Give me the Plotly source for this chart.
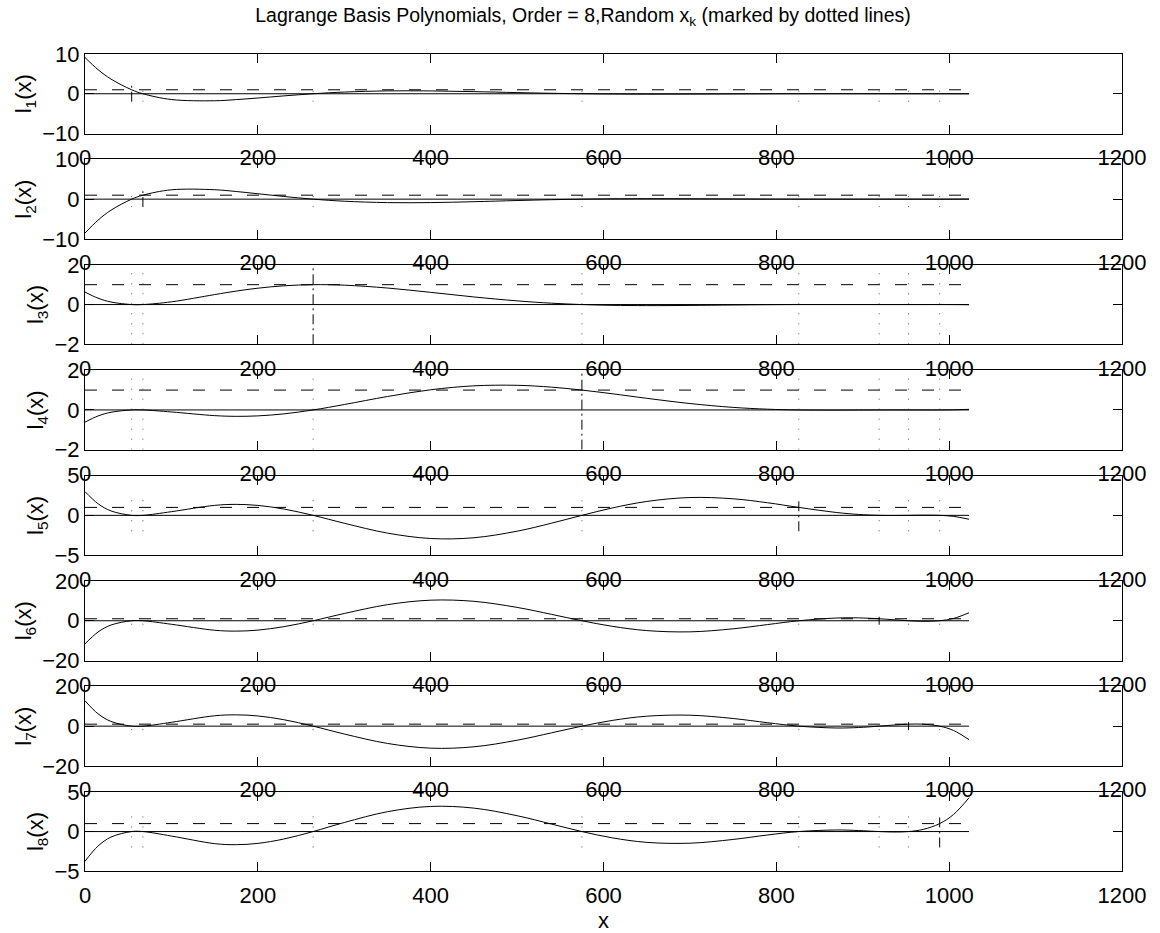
import plotly.graph_objects as go

# ---- data ----
x_grid = [0, 15, 30, 54, 67, 100, 150, 175, 200, 230, 264, 300, 350, 400, 450, 500,
          540, 575, 610, 650, 700, 750, 790, 826, 870, 895, 919, 936, 953, 970, 989, 1005, 1023]
nodes = [54, 67, 264, 575, 826, 919, 953, 989]

l1 = [9.114, 6.083, 3.702, 1, 0, -1.452, -1.764, -1.477, -1.069, -0.540, 0, 0.423, 0.716, 0.715, 0.533, 0.290,
      0.115, 0, -0.071, -0.103, -0.087, -0.045, -0.015, 0, 0.004, 0.002, 0, 0.0, 0, 0.001, 0, -0.005, -0.020]
l2 = [-8.534, -5.300, -2.790, 0, 1, 2.351, 2.370, 1.923, 1.363, 0.677, 0, -0.519, -0.870, -0.863, -0.640, -0.348,
      -0.137, 0, 0.085, 0.122, 0.103, 0.054, 0.018, 0, -0.005, -0.002, 0, 0.001, 0, -0.001, 0, 0.006, 0.023]
l3 = [0.629, 0.322, 0.128, 0, 0, 0.137, 0.501, 0.678, 0.823, 0.943, 1, 0.976, 0.831, 0.614, 0.383, 0.185,
      0.068, 0, -0.039, -0.054, -0.044, -0.022, -0.007, 0, 0.002, 0.001, 0, 0.0, 0, 0.0, 0, -0.002, -0.009]
l4 = [-0.614, -0.304, -0.117, 0, 0, -0.101, -0.286, -0.321, -0.299, -0.198, 0, 0.272, 0.676, 1.015, 1.213, 1.240,
      1.147, 1, 0.815, 0.586, 0.323, 0.129, 0.038, 0, -0.008, -0.004, 0, 0.001, 0, -0.001, 0, 0.008, 0.031]
l5 = [2.990, 1.468, 0.560, 0, 0, 0.462, 1.257, 1.378, 1.251, 0.800, 0, -0.993, -2.233, -2.913, -2.818, -1.994,
      -0.981, 0, 0.923, 1.747, 2.243, 2.083, 1.582, 1, 0.356, 0.116, 0, -0.018, 0, 0.024, 0, -0.128, -0.490]
l6 = [-11.633, -5.701, -2.171, 0, 0, -1.771, -4.784, -5.218, -4.716, -2.994, 0, 3.654, 8.089, 10.352, 9.780, 6.716,
      3.204, 0, -2.793, -4.948, -5.586, -4.056, -1.912, 0, 1.385, 1.439, 1, 0.501, 0, -0.292, 0, 1.152, 4.018]
l7 = [12.786, 6.262, 2.383, 0, 0, 1.938, 5.222, 5.688, 5.132, 3.253, 0, -3.948, -8.699, -11.074, -10.394, -7.080,
      -3.352, 0, 2.868, 5.007, 5.511, 3.849, 1.725, 0, -0.932, -0.679, 0, 0.571, 1, 0.998, 0, -2.171, -6.804]
l8 = [-3.744, -1.833, -0.697, 0, 0, -0.565, -1.519, -1.652, -1.489, -0.942, 0, 1.137, 2.495, 3.160, 2.948, 1.993,
      0.937, 0, -0.789, -1.360, -1.466, -0.993, -0.429, 0, 0.198, 0.127, 0, -0.056, 0, 0.271, 1, 2.144, 4.257]
series = [l1, l2, l3, l4, l5, l6, l7, l8]
y_limits = [10, 10, 2, 2, 5, 20, 20, 5]
x_ticks = [0, 200, 400, 600, 800, 1000, 1200]
x_end = 1023
marker_span = 2

FONT = "Liberation Sans, Arial, Helvetica, sans-serif"
W, Hpx = 1160, 933
ML, MR, MT, MB = 85, 38, 54, 61
PH = Hpx - MT - MB
STEP, AXH = 105.4, 79.5

fig = go.Figure()
layout = {}
for i in range(8):
    suf = '' if i == 0 else str(i + 1)
    xa, ya = 'x' + suf, 'y' + suf
    top = 1 - i * STEP / PH
    bot = top - AXH / PH
    # reference lines
    fig.add_trace(go.Scatter(x=[0, x_end], y=[0, 0], xaxis=xa, yaxis=ya, mode='lines',
                             line=dict(color='black', width=1), hoverinfo='skip'))
    fig.add_trace(go.Scatter(x=[0, x_end], y=[1, 1], xaxis=xa, yaxis=ya, mode='lines',
                             line=dict(color='black', width=1, dash='12px,15px'), hoverinfo='skip'))
    for j, xn in enumerate(nodes):
        if j == i:
            ln = dict(color='black', width=1, dash='10px,4px,2px,4px')
        else:
            ln = dict(color='#555555', width=1, dash='1px,9px')
        fig.add_trace(go.Scatter(x=[xn, xn], y=[-marker_span, marker_span], xaxis=xa, yaxis=ya, mode='lines',
                                 line=ln, hoverinfo='skip'))
    fig.add_trace(go.Scatter(x=x_grid, y=series[i], xaxis=xa, yaxis=ya, mode='lines',
                             line=dict(color='black', width=1, shape='spline', smoothing=1.0)))
    R = y_limits[i]
    common = dict(showline=True, linecolor='black', linewidth=1, mirror='ticks', ticks='inside',
                  ticklen=9, tickcolor='black', tickwidth=1, showgrid=False, zeroline=False,
                  tickfont=dict(family=FONT, size=22, color='black'))
    layout['xaxis' + suf] = dict(domain=[0, 1], anchor=ya, range=[0, 1200], tickvals=x_ticks,
                                 ticklabelstandoff=4, **common)
    layout['yaxis' + suf] = dict(domain=[bot, top], anchor=xa, range=[-R, R], tickvals=[-R, 0, R],
                                 title=dict(text=f'l<sub>{i + 1}</sub>(x)', standoff=4,
                                            font=dict(family=FONT, size=22, color='black')),
                                 **common)
    if i == 7:
        layout['xaxis' + suf]['title'] = dict(text='x', standoff=6, font=dict(family=FONT, size=22, color='black'))

fig.update_layout(**layout)
fig.update_layout(
    width=W, height=Hpx, showlegend=False,
    margin=dict(l=ML, r=MR, t=MT, b=MB, autoexpand=False),
    paper_bgcolor='white', plot_bgcolor='white',
    font=dict(family=FONT, size=22, color='black'),
    title=dict(text='Lagrange Basis Polynomials, Order = 8,Random x<sub>k</sub> (marked by dotted lines)',
               x=583 / W, xanchor='center', y=1 - 15 / Hpx, yanchor='middle',
               font=dict(family=FONT, size=19.5, color='black')),
)
fig.write_html('out.html')
